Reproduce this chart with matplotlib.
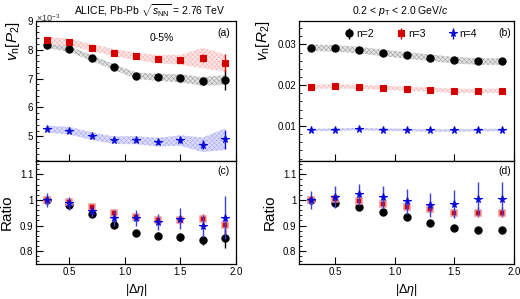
import numpy as np
import matplotlib
matplotlib.use("Agg")
import matplotlib.pyplot as plt
from matplotlib.ticker import MultipleLocator

plt.rcParams['font.family'] = ['Liberation Sans', 'DejaVu Sans']
plt.rcParams['mathtext.fontset'] = 'custom'
plt.rcParams['mathtext.rm'] = 'Liberation Sans'
plt.rcParams['mathtext.it'] = 'Liberation Sans:italic'
plt.rcParams['mathtext.sf'] = 'Liberation Sans'
plt.rcParams['hatch.linewidth'] = 0.35

# ---------------- data ----------------
deta = [0.3, 0.5, 0.7, 0.9, 1.1, 1.3, 1.5, 1.7, 1.9]

# (a) v_n[P_2]  (x 1e-3)
a_n2 = [8.16, 8.02, 7.71, 7.40, 7.10, 7.04, 7.01, 6.90, 6.95]
a_n3 = [8.32, 8.25, 8.07, 7.90, 7.77, 7.67, 7.65, 7.71, 7.54]
a_n4 = [5.25, 5.20, 5.01, 4.87, 4.87, 4.80, 4.86, 4.71, 4.90]
a_n2_stat = [0.03, 0.03, 0.04, 0.04, 0.05, 0.06, 0.09, 0.12, 0.33]
a_n3_stat = [0.03, 0.03, 0.04, 0.04, 0.05, 0.06, 0.09, 0.14, 0.30]
a_n4_stat = [0.03, 0.03, 0.04, 0.04, 0.05, 0.06, 0.09, 0.15, 0.32]
a_n2_sys = [0.10, 0.10, 0.10, 0.10, 0.11, 0.12, 0.14, 0.15, 0.17]
a_n3_sys = [0.12, 0.12, 0.12, 0.12, 0.13, 0.14, 0.17, 0.35, 0.30]
a_n4_sys = [0.12, 0.13, 0.13, 0.13, 0.14, 0.15, 0.18, 0.25, 0.37]

# (b) v_n[R_2]
b_n2 = [0.0292, 0.0290, 0.0286, 0.0279, 0.0273, 0.0267, 0.0261, 0.0258, 0.0258]
b_n3 = [0.0196, 0.0197, 0.0196, 0.0194, 0.0191, 0.0189, 0.0186, 0.0186, 0.0186]
b_n4 = [0.0090, 0.0091, 0.0092, 0.0091, 0.0090, 0.0089, 0.0089, 0.0090, 0.0090]
b_n2_stat = [0.0001, 0.0001, 0.0001, 0.0001, 0.0001, 0.0001, 0.0001, 0.0001, 0.0001]
b_n3_stat = [0.0001, 0.0001, 0.0001, 0.0001, 0.0001, 0.0001, 0.0001, 0.0001, 0.0001]
b_n4_stat = [0.0001, 0.0001, 0.0001, 0.0001, 0.0001, 0.0001, 0.0001, 0.0001, 0.0001]
b_n2_sys = [0.0008, 0.0008, 0.0008, 0.0008, 0.0008, 0.0008, 0.0008, 0.0008, 0.0008]
b_n3_sys = [0.0005, 0.0005, 0.0005, 0.0005, 0.0005, 0.0005, 0.0005, 0.0005, 0.0005]
b_n4_sys = [0.0003, 0.0003, 0.0003, 0.0003, 0.0003, 0.0003, 0.0003, 0.0003, 0.0003]

# (c) ratio P_2
c_n2 = [1.0, 0.980, 0.944, 0.904, 0.870, 0.861, 0.855, 0.845, 0.850]
c_n3 = [1.0, 0.991, 0.971, 0.949, 0.932, 0.921, 0.921, 0.925, 0.904]
c_n4 = [1.0, 0.987, 0.955, 0.929, 0.929, 0.915, 0.927, 0.899, 0.931]
c_n2_err = [0.008, 0.010, 0.010, 0.010, 0.010, 0.012, 0.015, 0.020, 0.038]
c_n3_err = [0.008, 0.010, 0.010, 0.010, 0.010, 0.012, 0.015, 0.020, 0.038]
c_n4_err = [0.026, 0.025, 0.022, 0.030, 0.032, 0.032, 0.040, 0.043, 0.085]

# (d) ratio R_2
d_n2 = [1.0, 0.990, 0.974, 0.952, 0.932, 0.910, 0.892, 0.882, 0.882]
d_n3 = [1.0, 1.004, 0.997, 0.986, 0.973, 0.964, 0.950, 0.950, 0.950]
d_n4 = [1.0, 1.012, 1.023, 1.012, 0.994, 0.980, 0.983, 1.003, 1.003]
d_n2_err = [0.004, 0.005, 0.005, 0.005, 0.006, 0.006, 0.006, 0.007, 0.007]
d_n3_err = [0.008, 0.010, 0.010, 0.010, 0.012, 0.014, 0.015, 0.018, 0.018]
d_n4_err = [0.036, 0.044, 0.041, 0.044, 0.049, 0.047, 0.055, 0.066, 0.066]

labels = ['n=2', 'n=3', 'n=4']

# ---------------- style ----------------
BLACK = '#000000'
RED = '#d40000'
BLUE = '#0a0ad8'
styles = [dict(marker='o', color=BLACK, ms=5.2),
          dict(marker='s', color=RED, ms=4.8),
          dict(marker='*', color=BLUE, ms=5.6)]
bands = [dict(fc='#e4e4e4', ec='#9a9a9a'),
         dict(fc='#fde8e8', ec='#f4b0b0'),
         dict(fc='#dcdcfb', ec='#a8a8f2')]

W, H = 520, 299
fig = plt.figure(figsize=(W / 100, H / 100), dpi=100)

def rect(x0, y0, x1, y1):
    return [x0 / W, 1 - y1 / H, (x1 - x0) / W, (y1 - y0) / H]

axA = fig.add_axes(rect(36, 20.7, 236, 161))
axB = fig.add_axes(rect(299, 20.7, 514, 161))
axC = fig.add_axes(rect(36, 161, 236, 264))
axD = fig.add_axes(rect(299, 161, 514, 264))

FS = 7

def style_axis(ax, ymaj, ymin):
    ax.set_xlim(0.2, 2.0)
    ax.xaxis.set_major_locator(MultipleLocator(0.5))
    ax.yaxis.set_major_locator(MultipleLocator(ymaj))
    ax.yaxis.set_minor_locator(MultipleLocator(ymin))
    ax.tick_params(axis='both', which='major', direction='in', length=5, width=0.8,
                   labelsize=FS, top=False, right=False, pad=2)
    ax.tick_params(axis='y', which='minor', direction='in', length=2.5, width=0.6)
    ax.tick_params(axis='x', which='minor', bottom=False)
    for s in ax.spines.values():
        s.set_linewidth(0.9)

def band(ax, y, e, k):
    y = np.array(y); e = np.array(e)
    ax.fill_between(deta, y - e, y + e, facecolor=bands[k]['fc'],
                    edgecolor=bands[k]['ec'], hatch='xxxxxxx', linewidth=0, zorder=1)

def points(ax, y, err, k, ratio=False):
    st = styles[k]
    mec = st['color']
    ecol = st['color']
    mew = 0.8
    if ratio and k == 1:
        mec = '#f29a9a'
        mew = 1.1
    if ratio and k == 2:
        ecol = '#3c3ce0'
    return ax.errorbar(deta, y, yerr=err, fmt=st['marker'], color=st['color'],
                       ms=st['ms'], mec=mec, mew=mew, ecolor=ecol,
                       elinewidth=1.0, capsize=0, zorder=3 + k)

# (a)
band(axA, a_n2, a_n2_sys, 0)
band(axA, a_n3, a_n3_sys, 1)
band(axA, a_n4, a_n4_sys, 2)
points(axA, a_n2, a_n2_stat, 0)
points(axA, a_n3, a_n3_stat, 1)
points(axA, a_n4, a_n4_stat, 2)
style_axis(axA, 1, 0.2)
axA.set_ylim(4.15, 9.0)
axA.tick_params(labelbottom=False)
axA.text(0.0, 1.015, r'$\times$10$^{-3}$', transform=axA.transAxes, fontsize=6.5,
         ha='left', va='center', color='#333333')
axA.set_ylabel(r'$v_{\rm n}[P_{2}]$', fontsize=11, loc='top', labelpad=4)
axA.text(0.97, 0.95, '(a)', transform=axA.transAxes, ha='right', va='top', fontsize=7.5)
axA.text(0.63, 0.88, '0-5%', transform=axA.transAxes, ha='center', va='center', fontsize=7.5)

# (b)
band(axB, b_n2, b_n2_sys, 0)
band(axB, b_n3, b_n3_sys, 1)
band(axB, b_n4, b_n4_sys, 2)
h2 = points(axB, b_n2, b_n2_stat, 0)
h3 = points(axB, b_n3, b_n3_stat, 1)
h4 = points(axB, b_n4, b_n4_stat, 2)
style_axis(axB, 0.01, 0.002)
axB.set_ylim(0.0014, 0.0358)
axB.tick_params(labelbottom=False)
axB.set_ylabel(r'$v_{\rm n}[R_{2}]$', fontsize=11, loc='top', labelpad=4)
axB.text(0.985, 0.95, '(b)', transform=axB.transAxes, ha='right', va='top', fontsize=7.5)
leg = axB.legend([h2, h3, h4], labels, ncol=3, frameon=False, loc='upper center',
                 bbox_to_anchor=(0.52, 1.0), fontsize=7.5, handlelength=0.9,
                 handletextpad=0.2, columnspacing=2.2, borderaxespad=0.4)

# (c)
points(axC, c_n2, c_n2_err, 0, ratio=True)
points(axC, c_n3, c_n3_err, 1, ratio=True)
points(axC, c_n4, c_n4_err, 2, ratio=True)
style_axis(axC, 0.1, 0.02)
axC.set_ylim(0.75, 1.152)
axC.set_ylabel('Ratio', fontsize=11, labelpad=4)
axC.set_xlabel(r'$|\Delta\eta|$', fontsize=9, labelpad=4)
axC.text(0.97, 0.95, '(c)', transform=axC.transAxes, ha='right', va='top', fontsize=7.5)

# (d)
points(axD, d_n2, d_n2_err, 0, ratio=True)
points(axD, d_n3, d_n3_err, 1, ratio=True)
points(axD, d_n4, d_n4_err, 2, ratio=True)
style_axis(axD, 0.1, 0.02)
axD.set_ylim(0.75, 1.152)
axD.set_ylabel('Ratio', fontsize=11, labelpad=4)
axD.set_xlabel(r'$|\Delta\eta|$', fontsize=9, labelpad=4)
axD.text(0.985, 0.95, '(d)', transform=axD.transAxes, ha='right', va='top', fontsize=7.5)

for ax in (axC, axD):
    ax.yaxis.set_major_formatter(matplotlib.ticker.FuncFormatter(
        lambda v, p: ('%g' % round(v, 2))))

fig.text(150 / W, 1 - 11 / H, r'ALICE, Pb-Pb $\sqrt{s_{\rm NN}}$ = 2.76 TeV',
         ha='center', va='center', fontsize=7.5)
fig.text(400 / W, 1 - 11 / H, r'0.2 < $p_{\rm T}$ < 2.0 GeV/$c$',
         ha='center', va='center', fontsize=7.5)

fig.savefig('out.png', dpi=100)
